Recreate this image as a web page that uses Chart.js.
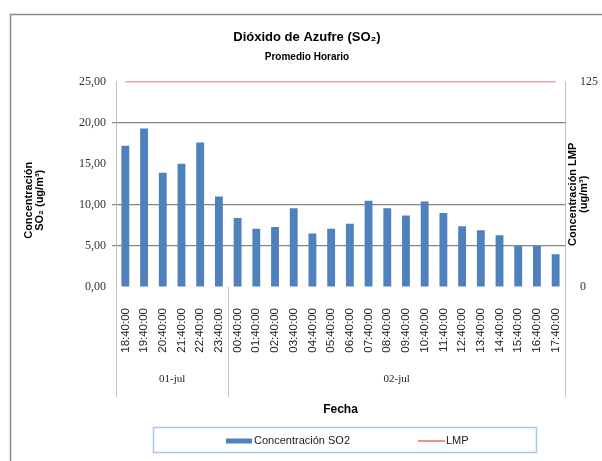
<!DOCTYPE html>
<html>
<head>
<meta charset="utf-8">
<script src="https://cdn.jsdelivr.net/npm/chart.js@4"></script>
<style>
  body { margin: 0; background: #fff; }
  canvas { display: block; }
</style>
</head>
<body>
<canvas id="chart" width="602" height="461"></canvas>
<script>
// Horas de medición (promedio horario)
const categories = ['18:40:00', '19:40:00', '20:40:00', '21:40:00', '22:40:00', '23:40:00',
  '00:40:00', '01:40:00', '02:40:00', '03:40:00', '04:40:00', '05:40:00',
  '06:40:00', '07:40:00', '08:40:00', '09:40:00', '10:40:00', '11:40:00',
  '12:40:00', '13:40:00', '14:40:00', '15:40:00', '16:40:00', '17:40:00'];
const dates = ['01-jul', '02-jul'];
const groupSizes = [6, 18];

// Concentración SO2 (ug/m3)
const so2 = [17.2, 19.3, 13.9, 15.0, 17.6, 11.0, 8.4, 7.1, 7.3, 9.6, 6.5, 7.1,
  7.7, 10.5, 9.6, 8.7, 10.4, 9.0, 7.4, 6.9, 6.3, 5.0, 5.0, 4.0];
// Límite máximo permisible
const lmp = [125, 125, 125, 125, 125, 125, 125, 125, 125, 125, 125, 125,
  125, 125, 125, 125, 125, 125, 125, 125, 125, 125, 125, 125];

const leftGridValues = [5, 10, 20];
const leftTitle = ['Concentración', 'SO₂ (ug/m³)'];
const rightTitle = ['Concentración LMP', '(ug/m³)'];

const SANS = "'Liberation Sans', Arial, sans-serif";
const SERIF = "'Liberation Serif', 'Times New Roman', serif";

const decor = {
  id: 'decor',
  beforeDraw(chart) {
    const ctx = chart.ctx;
    ctx.save();
    ctx.fillStyle = '#fff';
    ctx.fillRect(0, 0, chart.width, chart.height);
    ctx.strokeStyle = '#8c8c8c';
    ctx.lineWidth = 1.5;
    ctx.beginPath();
    ctx.moveTo(10.5, chart.height);
    ctx.lineTo(10.5, 14.5);
    ctx.lineTo(chart.width, 14.5);
    ctx.stroke();
    ctx.restore();
  },
  afterDraw(chart) {
    const ctx = chart.ctx;
    const x = chart.scales.x;
    const a = chart.chartArea;
    const half = (x.getPixelForValue(1) - x.getPixelForValue(0)) / 2;

    // separadores de fecha y etiquetas de grupo
    ctx.save();
    ctx.strokeStyle = '#c4c4c4';
    ctx.lineWidth = 1;
    let start = 0;
    const edges = [0];
    groupSizes.forEach(n => { start += n; edges.push(start); });
    edges.forEach(e => {
      const px = Math.round(x.getPixelForValue(e) - half) + 0.5;
      ctx.beginPath();
      ctx.moveTo(px, a.bottom);
      ctx.lineTo(px, 397);
      ctx.stroke();
    });
    ctx.fillStyle = '#222';
    ctx.font = '11px ' + SERIF;
    ctx.textAlign = 'center';
    ctx.textBaseline = 'middle';
    dates.forEach((d, i) => {
      const l = x.getPixelForValue(edges[i]) - half;
      const r = x.getPixelForValue(edges[i + 1]) - half;
      ctx.fillText(d, (l + r) / 2, 379);
    });

    // títulos de ejes
    ctx.fillStyle = '#000';
    ctx.font = 'bold 11px ' + SANS;
    const midY = (a.top + a.bottom) / 2;
    leftTitle.forEach((t, i) => {
      ctx.save();
      ctx.translate(29 + i * 11, midY + 16);
      ctx.rotate(-Math.PI / 2);
      ctx.fillText(t, 0, 0);
      ctx.restore();
    });
    rightTitle.forEach((t, i) => {
      ctx.save();
      ctx.translate(573 + i * 10.5, midY + 10);
      ctx.rotate(-Math.PI / 2);
      ctx.fillText(t, 0, 0);
      ctx.restore();
    });

    // leyenda
    const ds = chart.data.datasets;
    ctx.strokeStyle = '#a9c5ea';
    ctx.lineWidth = 1.5;
    ctx.strokeRect(153.5, 427.5, 383, 25);
    ctx.font = '11px ' + SANS;
    ctx.textAlign = 'left';
    ctx.fillStyle = ds[0].backgroundColor;
    ctx.fillRect(226, 438.5, 26, 5);
    ctx.fillStyle = '#222';
    ctx.fillText(ds[0].label, 254, 441);
    ctx.strokeStyle = ds[1].borderColor;
    ctx.lineWidth = 1.2;
    ctx.beginPath();
    ctx.moveTo(418, 441);
    ctx.lineTo(445, 441);
    ctx.stroke();
    ctx.fillText(ds[1].label, 446, 441);
    ctx.restore();
  }
};

new Chart(document.getElementById('chart'), {
  data: {
    labels: categories,
    datasets: [
      {
        type: 'bar',
        label: 'Concentración SO2',
        data: so2,
        yAxisID: 'y',
        backgroundColor: '#4f81bd',
        barPercentage: 0.42,
        categoryPercentage: 1,
        order: 2
      },
      {
        type: 'line',
        label: 'LMP',
        data: lmp,
        yAxisID: 'y1',
        borderColor: '#e0474c',
        borderWidth: 1.2,
        pointRadius: 0,
        fill: false,
        order: 1
      }
    ]
  },
  options: {
    responsive: false,
    animation: false,
    devicePixelRatio: 1,
    layout: { padding: { top: 20, left: 12, right: 0, bottom: 43 } },
    plugins: {
      legend: { display: false },
      tooltip: { enabled: false },
      title: {
        display: true,
        text: 'Dióxido de Azufre (SO₂)',
        color: '#000',
        font: { family: SANS, size: 13, weight: 'bold' },
        padding: { top: 10, bottom: 3 }
      },
      subtitle: {
        display: true,
        text: 'Promedio Horario',
        color: '#000',
        font: { family: SANS, size: 10, weight: 'bold' },
        padding: { top: 3, bottom: 18 }
      }
    },
    scales: {
      x: {
        grid: { display: false },
        border: { display: false },
        ticks: {
          autoSkip: false,
          maxRotation: 90,
          minRotation: 90,
          padding: 13,
          color: '#222',
          font: { family: SANS, size: 11.5 }
        },
        title: {
          display: true,
          text: 'Fecha',
          color: '#000',
          font: { family: SANS, size: 12, weight: 'bold' },
          padding: { top: 0, bottom: 1 }
        },
        afterFit(scale) { scale.height = 131; }
      },
      y: {
        position: 'left',
        min: 0,
        max: 25,
        ticks: {
          stepSize: 5,
          padding: 6,
          color: '#333',
          font: { family: SERIF, size: 12 },
          callback: v => v.toFixed(2).replace('.', ',')
        },
        grid: {
          color: c => leftGridValues.includes(c.tick.value) ? '#858585' : 'transparent',
          lineWidth: 1.2,
          tickLength: 4
        },
        border: { color: '#bdbdbd' },
        afterFit(scale) { scale.width = 104; }
      },
      y1: {
        position: 'right',
        min: 0,
        max: 125,
        ticks: {
          stepSize: 125,
          padding: 7,
          color: '#333',
          font: { family: SERIF, size: 12 }
        },
        grid: { display: false },
        border: { color: '#bdbdbd' },
        afterFit(scale) { scale.width = 37; }
      }
    }
  },
  plugins: [decor]
});
</script>
</body>
</html>
